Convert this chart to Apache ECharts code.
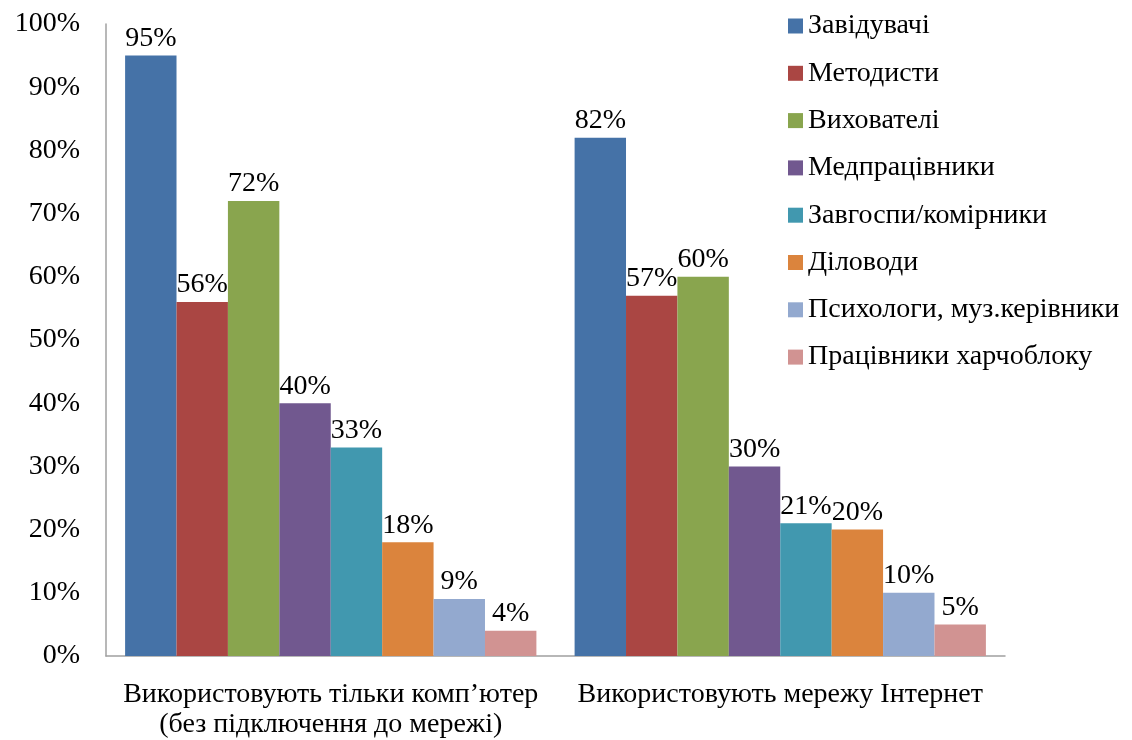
<!DOCTYPE html>
<html>
<head>
<meta charset="utf-8">
<script src="https://cdn.jsdelivr.net/npm/echarts@6/dist/echarts.min.js"></script>
<style>
  html, body { margin: 0; padding: 0; background: #fff; }
  #chart { width: 1132px; height: 740px; }
</style>
</head>
<body>
<div id="chart"></div>
<script>
  // категорії по осі X
  var categories = [
    "Використовують тільки комп’ютер\n(без підключення до мережі)",
    "Використовують мережу Інтернет"
  ];
  var seriesNames = [
    "Завідувачі", "Методисти", "Вихователі", "Медпрацівники",
    "Завгоспи/комірники", "Діловоди", "Психологи, муз.керівники", "Працівники харчоблоку"
  ];
  // значення, % (по групах)
  var zavidyvachi = [95, 82];
  var metodysty = [56, 57];
  var vyhovateli = [72, 60];
  var medpratsivnyky = [40, 30];
  var zavgospy = [33, 21];
  var dilovody = [18, 20];
  var psyhology = [9, 10];
  var harchoblok = [4, 5];
  var values = [zavidyvachi, metodysty, vyhovateli, medpratsivnyky, zavgospy, dilovody, psyhology, harchoblok];
  var yTicks = [0, 10, 20, 30, 40, 50, 60, 70, 80, 90, 100];

  var colors = ["#4572A7", "#AA4643", "#89A54E", "#71588F", "#4198AF", "#DB843D", "#93A9CF", "#D19392"];
  var font = "'Liberation Serif', 'Times New Roman', serif";
  var fs = 28;

  var myChart = echarts.init(document.getElementById("chart"));
  var option = {
    animation: false,
    color: colors,
    textStyle: { fontFamily: font, color: "#000" },
    grid: { left: 106, right: 127, top: 24, bottom: 75 },
    legend: {
      orient: "vertical",
      left: 783,
      top: 7,
      itemWidth: 15,
      itemHeight: 15,
      itemGap: 19.3,
      icon: "rect",
      textStyle: { fontFamily: font, fontSize: fs, color: "#000", padding: [0, 0, 0, 0] },
      data: seriesNames
    },
    xAxis: {
      type: "category",
      data: categories,
      axisLine: { lineStyle: { color: "#a0a0a0", width: 1.5 } },
      axisTick: { show: false },
      axisLabel: { interval: 0, hideOverlap: false, fontFamily: font, fontSize: fs, color: "#000", margin: 24, lineHeight: 30 }
    },
    yAxis: {
      type: "value",
      min: yTicks[0],
      max: yTicks[yTicks.length - 1],
      interval: 10,
      axisLine: { show: true, lineStyle: { color: "#a0a0a0", width: 1.5 } },
      axisTick: { show: false },
      splitLine: { show: false },
      axisLabel: { fontFamily: font, fontSize: fs, color: "#000", margin: 26, formatter: "{value}%" }
    },
    series: seriesNames.map(function (name, i) {
      return {
        name: name,
        type: "bar",
        data: values[i],
        barGap: "0%",
        barCategoryGap: "8.5%",
        label: {
          show: true,
          position: "top",
          distance: 3,
          fontFamily: font,
          fontSize: fs,
          color: "#000",
          formatter: "{c}%"
        }
      };
    })
  };
  myChart.setOption(option);
</script>
</body>
</html>
